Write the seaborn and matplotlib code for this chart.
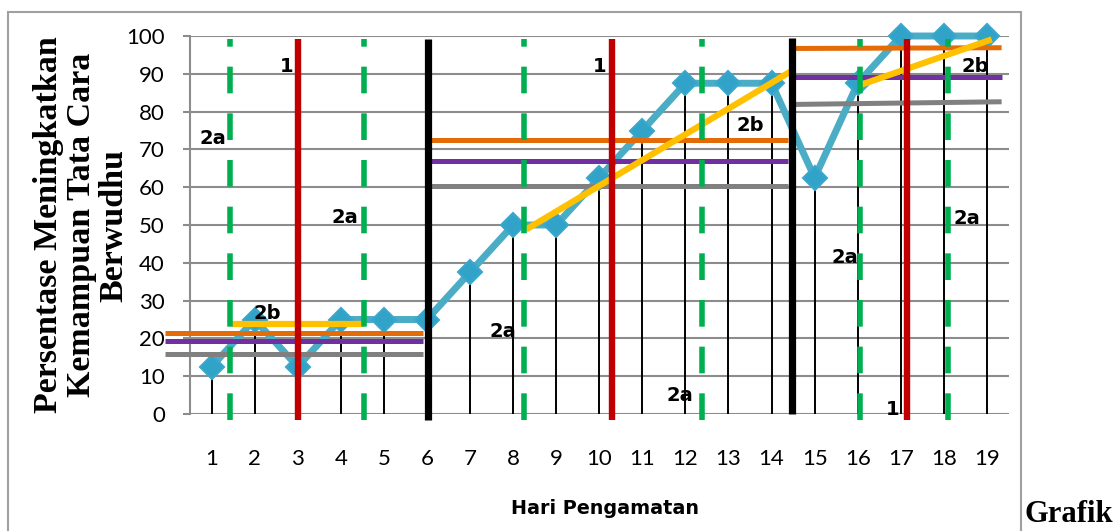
import matplotlib
matplotlib.use('Agg')
import matplotlib.pyplot as plt
import seaborn as sns
import pandas as pd
from matplotlib.patches import Rectangle

# ---------------- data ----------------
days = list(range(1, 20))
percent = [12.5, 25, 12.5, 25, 25, 25, 37.5, 50, 50, 62.5,
           75, 87.5, 87.5, 87.5, 62.5, 87.5, 100, 100, 100]
day_labels = [str(d) for d in days]
y_ticks = list(range(0, 101, 10))

# phase level lines: (x start, x end, y start, y end)
orange_x0 = [-0.08, 6.1, 14.54]
orange_x1 = [5.91, 14.37, 19.34]
orange_y0 = [21.3, 72.5, 96.7]
orange_y1 = [21.3, 72.5, 96.9]

purple_x0 = [-0.08, 6.1, 14.54]
purple_x1 = [5.91, 14.37, 19.34]
purple_y0 = [19.3, 67.0, 89.2]
purple_y1 = [19.3, 67.0, 89.2]

gray_x0 = [-0.08, 6.1, 14.54]
gray_x1 = [5.91, 14.37, 19.34]
gray_y0 = [15.9, 60.2, 81.9]
gray_y1 = [15.9, 60.2, 82.6]

yellow_x0 = [1.47, 8.3, 16.05]
yellow_x1 = [4.52, 14.5, 19.11]
yellow_y0 = [23.7, 48.8, 87.0]
yellow_y1 = [23.7, 91.0, 99.1]

# vertical phase separators
red_x = [3.0, 10.3, 17.14]
red_y0 = [-1.6, -1.6, -1.6]
red_y1 = [99.2, 99.2, 99.2]

black_x = [6.02, 14.47]
black_y0 = [-1.6, 0.0]
black_y1 = [99.2, 99.5]

green_x = [1.43, 4.55, 8.26, 12.39, 16.05, 18.1]
green_y0 = -1.6
green_y1 = 99.2

# annotation labels
note_text = ['1', '2a', '2a', '2b', '2a', '1', '2a', '2b', '2a', '2b', '2a', '1']
note_x = [2.75, 1.03, 4.10, 2.29, 7.77, 10.02, 11.87, 13.50, 15.70, 18.72, 18.54, 16.82]
note_y = [92.0, 73.0, 51.9, 26.7, 21.7, 92.0, 5.0, 76.2, 41.3, 91.8, 51.6, 1.3]

# ---------------- style ----------------
sns.set_theme(style='white')
plt.rcParams['font.family'] = ['Lato', 'DejaVu Sans']

GRID = '#8c8c8c'
fig = plt.figure(figsize=(11.2, 5.31), dpi=100)
ax = fig.add_axes([190 / 1120, 117 / 531, 818.5 / 1120, 378 / 531])

ax.set_xlim(0.5, 19.5)
ax.set_ylim(0, 100)
ax.set_yticks(y_ticks)
ax.set_yticklabels([str(t) for t in y_ticks])
ax.set_xticks(days)
ax.set_xticklabels(day_labels)
ax.grid(axis='y', color=GRID, lw=1.5)
ax.grid(axis='x', visible=False)
ax.set_axisbelow(True)
for s in ['top', 'right', 'bottom']:
    ax.spines[s].set_visible(False)
ax.spines['left'].set_color(GRID)
ax.spines['left'].set_linewidth(1.5)
ax.tick_params(axis='y', length=5, width=1.5, color=GRID, pad=13,
               labelsize=16, labelcolor='black', left=True)
ax.tick_params(axis='x', length=0, pad=25, labelsize=16, labelcolor='black')

# drop lines
ax.vlines(days, 0, percent, colors='black', lw=1.4, zorder=2)

# main series
df = pd.DataFrame({'Hari': days, 'Persen': percent})
sns.lineplot(data=df, x='Hari', y='Persen', ax=ax, color='#4BACC6', lw=5,
             marker='D', markersize=12, markerfacecolor='#31A3C9',
             markeredgecolor='#3AA7CC', markeredgewidth=1.5, zorder=3)
for ln in ax.lines:
    ln.set_clip_on(False)

# level lines
def seg(x0, x1, y0, y1, color, lw, z):
    for a, b, c, d in zip(x0, x1, y0, y1):
        ax.plot([a, b], [c, d], color=color, lw=lw, zorder=z,
                solid_capstyle='butt', clip_on=False)

seg(gray_x0, gray_x1, gray_y0, gray_y1, '#808080', 3.6, 4)
seg(purple_x0, purple_x1, purple_y0, purple_y1, '#7030A0', 3.6, 4)
seg(orange_x0, orange_x1, orange_y0, orange_y1, '#E36C09', 3.6, 4)
seg(yellow_x0, yellow_x1, yellow_y0, yellow_y1, '#FFC000', 4.5, 5)

for gx in green_x:
    ax.plot([gx, gx], [green_y0, green_y1], color='#00B050', lw=4,
            dashes=(4.8, 3.6), zorder=6, clip_on=False, solid_capstyle='butt',
            dash_capstyle='butt')
for rx, a, b in zip(red_x, red_y0, red_y1):
    ax.plot([rx, rx], [a, b], color='#C00000', lw=4.6, zorder=7,
            clip_on=False, solid_capstyle='butt')
for bx, a, b in zip(black_x, black_y0, black_y1):
    ax.plot([bx, bx], [a, b], color='black', lw=5.2, zorder=8,
            clip_on=False, solid_capstyle='butt')

for t, x, y in zip(note_text, note_x, note_y):
    ax.text(x, y, t, ha='center', va='center', fontsize=14,
            fontweight='bold', color='black', zorder=10,
            family=['DejaVu Sans'])

ax.set_xlabel('Hari Pengamatan', fontsize=13.8, fontweight='bold',
              color='black', va='center', family=['DejaVu Sans'])
ax.xaxis.set_label_coords(0.507, -0.249)
ax.set_ylabel('Persentase Meningkatkan\nKemampuan Tata Cara\nBerwudhu',
              fontsize=24.5, fontweight='bold', color='black',
              family=['Liberation Serif', 'DejaVu Serif'],
              va='center', ha='center', linespacing=1.08)
ax.yaxis.set_label_coords(-0.133, 0.5)

# outer frame and trailing caption
fig.patches.append(Rectangle((8 / 1120, -0.1), (1021 - 8) / 1120,
                             0.1 + 1 - 12 / 531, transform=fig.transFigure,
                             fill=False, edgecolor='#A0A0A0', lw=1.5,
                             zorder=0))
fig.text(1025 / 1120, 9 / 531, 'Grafik', fontsize=22, fontweight='bold',
         family=['Liberation Serif', 'DejaVu Serif'], ha='left',
         va='baseline', color='black')

fig.savefig('out.png', dpi=100)
